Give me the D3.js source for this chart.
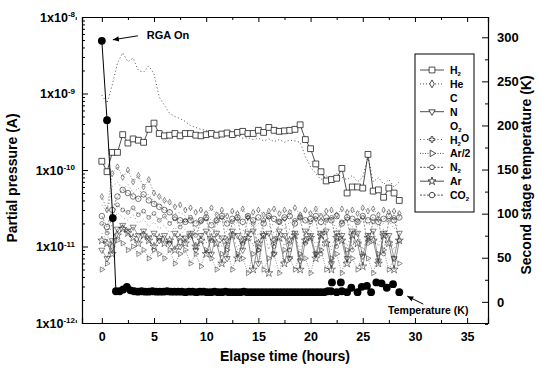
<!DOCTYPE html>
<html><head><meta charset="utf-8">
<script src="https://cdn.jsdelivr.net/npm/d3@7"></script>
<style>
body{margin:0;background:#fff}
svg{font-family:"Liberation Sans",Arial,sans-serif;font-weight:bold}
</style>
</head><body><svg id="c" width="540" height="372"></svg>
<script>
// ---------- data ----------
const unit = 1e-12; // gas values below are in units of 1e-12 A
const hours = [0,0.5,1,1.5,2,2.5,3,3.5,4,4.5,5,5.5,6,6.5,7,7.5,8,8.5,9,9.5,
  10,10.5,11,11.5,12,12.5,13,13.5,14,14.5,15,15.5,16,16.5,17,17.5,18,18.5,19,19.5,
  20,20.5,21,21.5,22,22.5,23,23.5,24,24.5,25,25.5,26,26.5,27,27.5,28,28.5];
const h2 = [130,95,170,170,290,225,255,245,230,340, 410,300,280,285,300,280,300,300,285,280,
  290,300,285,295,305,290,310,320,300,300, 330,310,360,330,320,325,330,340,390,250,
  190,120,95,72,75,78,105,50,60,60, 58,160,53,55,44,58,50,40];
const he = [45,30,90,110,80,100,70,85,60,75, 50,45,40,38,33,35,30,32,28,30,
  27,32,26,30,25,29,27,31,24,28, 30,26,29,31,27,30,28,32,26,30,
  27,31,25,29,30,26,31,28,30,27, 32,29,31,26,30,28,29,27];
const c = [15,12,20,28,24,22,26,20,23,18, 21,17,19,15,18,14,17,12,18,15,
  11,17,16,10,17,15,9,16,17,10, 15,17,9,16,15,10,17,14,9,16,
  17,10,15,16,9,17,15,10,16,17, 9,15,16,10,17,15,9,16];
const n = [9,7,12,17,19,16,18,14,16,13, 15,12,14,11,15,10,13,15,9,14,
  16,8,15,13,7,16,14,9,15,16, 6,14,15,8,16,14,7,15,6.5,16,
  14,8,15,16,6,15,14,7,16,15, 7.5,14,16,6.5,15,14,7,15];
const o2 = [35,28,60,70,55,65,50,58,45,48, 38,36,32,30,27,28,25,26,22,24,
  21,23,19,22,20,18,21,19,22,17, 20,21,18,20,22,17,21,19,20,22,
  18,21,19,20,22,17,20,21,18,20, 22,19,21,18,20,22,17,20];
const h2o = [950,750,1300,2500,3400,2600,2900,2000,1900,2300, 1800,900,700,550,500,470,430,380,360,340,
  330,320,300,290,300,270,280,260,265,250, 260,240,255,235,250,230,245,240,230,150,
  110,90,75,85,70,90,80,75,85,70, 80,150,70,80,65,75,60,70];
const arHalf = [5,6,10,12,11,9,10,8,9,7, 9,8,7,9,6,8,9,6,8,5.5,
  9,7,5,8,9,5,8,7,4.5,8, 9,5,7,8,4.5,9,7,5,8,7,
  4.5,8,9,5,7,8,4.5,9,7,5, 8,7,4.5,8,9,5,7,6];
const n2 = [20,15,25,35,30,28,32,26,29,24, 27,22,25,20,23,18,22,24,14,21,
  23,12,22,24,10,21,23,11,24,20, 9,22,24,10,21,23,9,22,24,11,
  21,23,8,22,24,10,21,23,9,22, 24,11,21,23,8,22,24,12];
const ar = [12,11,8,14,17,15,13,11,14,12, 10,13,11,12,9,13,11,14,10,12,
  8,13,11,6,12,14,7,12,13,5, 11,14,4.5,12,13,6,12,14,5,12,
  13,7,14,11,5,13,12,6,14,11, 5.5,13,12,6,14,11,5,12];
const co2 = [25,18,30,45,55,50,45,42,48,40, 36,33,30,28,24,22,21,22,20,22,
  24,19,22,25,20,23,24,21,25,22, 24,20,25,23,21,24,25,20,24,22,
  23,25,21,24,22,25,20,24,23,21, 25,22,24,21,23,25,22,24];

const tempHours = [0,0.5,1.05,
  1.35,1.7,2.05,2.4,2.75,3.1,3.45,3.8,4.15,4.5,
  4.85,5.2,5.55,5.9,6.25,6.6,6.95,7.3,7.65,8.0,
  8.35,8.7,9.05,9.4,9.75,10.1,10.45,10.8,11.15,11.5,
  11.85,12.2,12.55,12.9,13.25,13.6,13.95,14.3,14.65,15.0,
  15.35,15.7,16.05,16.4,16.75,17.1,17.45,17.8,18.15,18.5,
  18.85,19.2,19.55,19.9,20.25,20.6,20.95,21.3,21.65,
  21.95,22.05,22.5,22.9,23.0,23.5,23.9,24.5,24.9,25.4,25.8,26.3,26.8,27.3,27.9,28.5];
const tempK = [296,206,95,
  12,12,14,17,13,12,11.5,12,11.5,11.5,
  12,11.5,11.5,11.5,12,11.5,11.5,11.5,11.5,11,
  11.5,11.5,11,11.5,11.5,11,11,11.5,11,11,
  11.5,11,11,11,11,11.5,11,11,11,11,
  11,11,11,11,11,11,11,11,11,11,
  11,11,11,11,11,11,11,11,12,
  12,22,11,22,12,11,16,11,17,18,11,22,21,16,20,11];

const xTicks = [0,5,10,15,20,25,30,35];
const xMinor = [-2.5,2.5,7.5,12.5,17.5,22.5,27.5,32.5];
const pTicks = [1e-12,1e-11,1e-10,1e-9,1e-8];
const tTicks = [0,50,100,150,200,250,300];
const tMinor = [-25,25,75,125,175,225,275];

const seriesNames = ["H2","He","C","N","O2","H2O","Ar/2","N2","Ar","CO2"];
const seriesVals = [h2,he,c,n,o2,h2o,arHalf,n2,ar,co2];
const seriesLabels = [["H","2"],["He",""],["C",""],["N",""],["O","2"],["H","2","O"],["Ar/2",""],["N","2"],["Ar",""],["CO","2"]];

// ---------- layout ----------
const svg = d3.select("#c");
const L = 82, R = 488, T = 17, B = 323;
const x = d3.scaleLinear().domain([-1.9, 37]).range([L, R]);
const y = d3.scaleLog().domain([1e-12, 1e-8]).range([B, T]);
const yT = d3.scaleLinear().domain([-24, 323]).range([B, T]);

const ink = "#222";
const styles = {
  "H2":  {dash:null, sym:d3.symbolSquare, size:34, rot:0, marker:true, fill:"#fff", w:0.8, mw:0.8},
  "He":  {dash:"1,2", sym:d3.symbolDiamond, size:10, rot:0, marker:true, fill:"none", w:0.6, mw:0.5},
  "C":   {dash:"1,3", sym:null, marker:false, w:0.5},
  "N":   {dash:null, sym:d3.symbolTriangle, size:16, rot:180, marker:true, fill:"none", w:0.45, mw:0.55},
  "O2":  {dash:"1,2.5", sym:null, marker:false, w:0.5},
  "H2O": {dash:"1,2.5", sym:d3.symbolCross, size:10, rot:0, marker:false, lmarker:true, fill:"none", w:0.8},
  "Ar/2":{dash:"1,1.5", sym:d3.symbolTriangle, size:12, rot:90, marker:true, fill:"none", w:0.5, mw:0.5},
  "N2":  {dash:"2,1.5", sym:d3.symbolCircle, size:12, rot:0, marker:true, fill:"none", w:0.5, mw:0.5},
  "Ar":  {dash:null, sym:d3.symbolStar, size:20, rot:0, marker:true, fill:"none", w:0.5, mw:0.55},
  "CO2": {dash:"2,1.5", sym:d3.symbolCircle, size:24, rot:0, marker:true, fill:"none", w:0.5, mw:0.6}
};

svg.append("clipPath").attr("id","clip").append("rect")
  .attr("x",L).attr("y",T).attr("width",R-L).attr("height",B-T);
const plot = svg.append("g").attr("clip-path","url(#clip)");

const order = ["C","O2","Ar/2","N2","N","Ar","He","CO2","H2O","H2"];
order.forEach(name => {
  const vals = seriesVals[seriesNames.indexOf(name)];
  const st = styles[name];
  const pts = hours.map((h,i)=>[h, vals[i]*unit]);
  plot.append("path").datum(pts)
    .attr("fill","none").attr("stroke",ink).attr("stroke-width",st.w)
    .attr("stroke-dasharray",st.dash)
    .attr("d", d3.line().x(d=>x(d[0])).y(d=>y(d[1])));
  if (st.marker) {
    plot.append("g").selectAll("path").data(pts).join("path")
      .attr("d", d3.symbol().type(st.sym).size(st.size))
      .attr("transform", d=>`translate(${x(d[0])},${y(d[1])}) rotate(${st.rot})`)
      .attr("fill", st.fill).attr("stroke", ink).attr("stroke-width", st.mw);
  }
});

// temperature
const tPts = tempHours.map((h,i)=>[h,tempK[i]]);
plot.append("path").datum(tPts.slice(0,5))
  .attr("fill","none").attr("stroke","#000").attr("stroke-width",1)
  .attr("d", d3.line().x(d=>x(d[0])).y(d=>yT(d[1])));
plot.append("g").selectAll("circle").data(tPts).join("circle")
  .attr("cx", d=>x(d[0])).attr("cy", d=>yT(d[1])).attr("r",3.9).attr("fill","#000");

// ---------- axes ----------
const axG = svg.append("g");
function styleAxis(g){
  g.attr("font-family",'"Liberation Sans",Arial,sans-serif');
  g.select(".domain").attr("stroke","#000").attr("stroke-width",1.2);
  g.selectAll(".tick line").attr("stroke","#000").attr("stroke-width",1);
  g.selectAll("text").attr("font-weight","bold").attr("fill","#000");
}
axG.append("g").attr("transform",`translate(0,${B})`)
  .call(d3.axisBottom(x).tickValues(xTicks).tickSize(-5).tickPadding(9).tickFormat(d3.format("d")))
  .call(styleAxis).call(g=>g.selectAll("text").attr("font-size",12.5));
axG.append("g").attr("transform",`translate(0,${B})`)
  .call(d3.axisBottom(x).tickValues(xMinor).tickSize(-3).tickFormat(""))
  .call(styleAxis).call(g=>g.select(".domain").remove());
axG.append("g").attr("transform",`translate(0,${T})`)
  .call(d3.axisTop(x).tickValues(xTicks).tickSize(-5).tickFormat(""))
  .call(styleAxis);
axG.append("g").attr("transform",`translate(0,${T})`)
  .call(d3.axisTop(x).tickValues(xMinor).tickSize(-3).tickFormat(""))
  .call(styleAxis).call(g=>g.select(".domain").remove());
const minorP = [];
pTicks.slice(0,-1).forEach(p=>{ for(let k=2;k<10;k++) minorP.push(p*k); });
axG.append("g").attr("transform",`translate(${L},0)`)
  .call(d3.axisLeft(y).tickValues(pTicks).tickSize(-6).tickPadding(8).tickFormat(""))
  .call(styleAxis)
  .call(g=>g.selectAll(".tick").each(function(d){
    const t = d3.select(this).append("text").attr("x",-7).attr("dy","0.32em")
      .attr("text-anchor","end").attr("font-size",12.5).attr("font-weight","bold").attr("fill","#000");
    t.append("tspan").text("1x10");
    t.append("tspan").attr("dy","-0.55em").attr("font-size",8).text(String(Math.round(Math.log10(d))));
  }));
axG.append("g").attr("transform",`translate(${L},0)`)
  .call(d3.axisLeft(y).tickValues(minorP).tickSize(-3).tickFormat(""))
  .call(styleAxis).call(g=>g.select(".domain").remove());
axG.append("g").attr("transform",`translate(${R},0)`)
  .call(d3.axisRight(yT).tickValues(tTicks).tickSize(-6).tickPadding(9).tickFormat(d3.format("d")))
  .call(styleAxis).call(g=>g.selectAll("text").attr("font-size",13));
axG.append("g").attr("transform",`translate(${R},0)`)
  .call(d3.axisRight(yT).tickValues(tMinor).tickSize(-3).tickFormat(""))
  .call(styleAxis).call(g=>g.select(".domain").remove());

svg.append("text").attr("transform",`translate(17,${(T+B)/2+8}) rotate(-90)`)
  .attr("text-anchor","middle").attr("font-size",14).text("Partial pressure (A)");
svg.append("text").attr("transform",`translate(531,${(T+B)/2+5}) rotate(-90)`)
  .attr("text-anchor","middle").attr("font-size",14).text("Second stage temperature (K)");
svg.append("text").attr("x",(L+R)/2).attr("y",361)
  .attr("text-anchor","middle").attr("font-size",14).text("Elapse time (hours)");

// ---------- annotations ----------
function arrow(x1,y1,x2,y2){
  svg.append("line").attr("x1",x1).attr("y1",y1).attr("x2",x2).attr("y2",y2)
    .attr("stroke","#000").attr("stroke-width",1);
  const a = Math.atan2(y2-y1,x2-x1), L2=6, W=2.6;
  const p = [[x2,y2],[x2-L2*Math.cos(a)+W*Math.sin(a), y2-L2*Math.sin(a)-W*Math.cos(a)],
             [x2-L2*Math.cos(a)-W*Math.sin(a), y2-L2*Math.sin(a)+W*Math.cos(a)]];
  svg.append("path").attr("d","M"+p.join("L")+"Z").attr("fill","#000");
}
const x0 = x(tempHours[0]), y0 = yT(tempK[0]);
arrow(x0+36, y0-5, x0+11, y0-1);
svg.append("text").attr("x",x0+45).attr("y",y0-2).attr("font-size",11).text("RGA On");
const xe = x(tempHours[tempHours.length-1]), ye = yT(tempK[tempK.length-1]);
arrow(xe+24, ye+12, xe+8, ye+4);
svg.append("text").attr("x",xe+29).attr("y",ye+22).attr("text-anchor","middle").attr("font-size",10.5).text("Temperature (K)");

// ---------- legend ----------
const lg = svg.append("g");
lg.append("rect").attr("x",415).attr("y",54).attr("width",59).attr("height",158)
  .attr("fill","#fff").attr("stroke","#000").attr("stroke-width",1);
seriesNames.forEach((name,i)=>{
  const st = styles[name];
  const ry = 70 + i*13.9;
  if (st.marker || st.lmarker) {
    lg.append("line").attr("x1",420).attr("x2",444).attr("y1",ry).attr("y2",ry)
      .attr("stroke",ink).attr("stroke-width",0.8).attr("stroke-dasharray",st.dash);
    lg.append("path").attr("d",d3.symbol().type(st.sym).size(Math.max(st.size,18)))
      .attr("transform",`translate(432,${ry}) rotate(${st.rot})`)
      .attr("fill","#fff").attr("stroke",ink).attr("stroke-width",0.8);
  }
  const lab = seriesLabels[i];
  const t = lg.append("text").attr("x",450).attr("y",ry+4).attr("font-size",10.5);
  t.append("tspan").text(lab[0]);
  if (lab[1]) t.append("tspan").attr("dy","0.35em").attr("font-size",6).text(lab[1]);
  if (lab[2]) t.append("tspan").attr("dy","-0.35em").text(lab[2]);
});
</script>
</body></html>
